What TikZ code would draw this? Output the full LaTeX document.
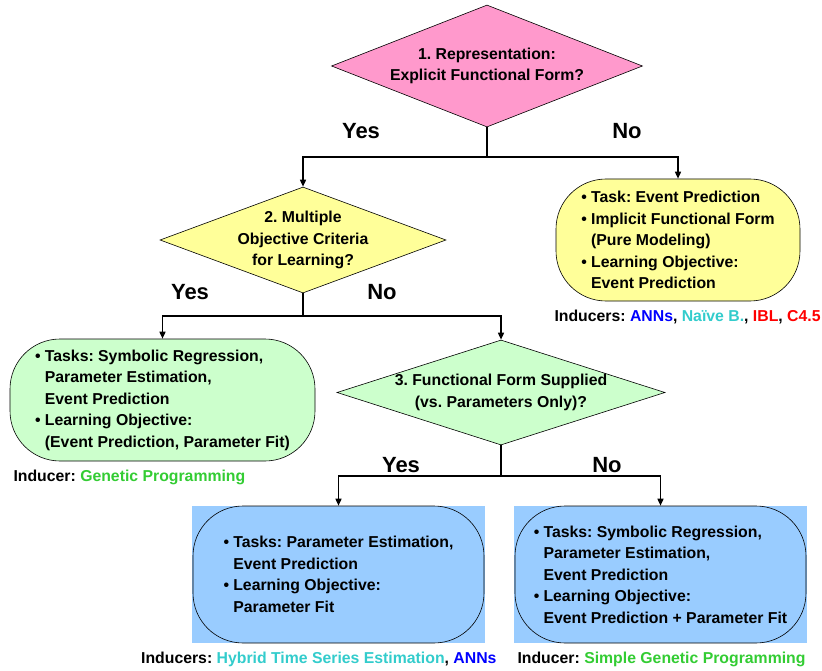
\documentclass[tikz,border=0pt]{standalone}
\usepackage{fontspec}
\setmainfont{Liberation Sans}
\usetikzlibrary{shapes.geometric,arrows.meta,positioning}

\definecolor{qpink}{RGB}{255,153,204}
\definecolor{qyellow}{RGB}{255,255,153}
\definecolor{qgreen}{RGB}{204,255,204}
\definecolor{qblue}{RGB}{153,204,255}
\definecolor{indblue}{RGB}{0,0,255}
\definecolor{indcyan}{RGB}{51,204,204}
\definecolor{indred}{RGB}{255,0,0}
\definecolor{indgreen}{RGB}{51,204,51}

\newcommand{\itm}{\makebox[0.62em][l]{\textbullet}}
\newcommand{\cnt}{\hspace*{0.62em}}
\frenchspacing

\begin{document}
\begin{tikzpicture}[x=1pt, y=-1pt,
	every node/.style={font=\fontsize{15.8}{21.5}\selectfont\bfseries},
	question/.style={diamond, draw, line width=0.6pt, inner sep=-4pt, align=center},
	outcome/.style={rectangle, draw, line width=0.6pt, rounded corners=50pt, inner sep=0pt, align=left},
	answer/.style={font=\fontsize{22}{26}\selectfont\bfseries},
	conn/.style={line width=1.5pt},
	arr/.style={conn, -{Triangle[length=7pt, width=6pt]}}]
	\useasboundingbox (0,0) rectangle (822,671);

	% Draw the questions
	\node[question, fill=qpink, aspect=2.55, minimum width=311, minimum height=122] (rep) at (487,66)
		{1. Representation:\\Explicit Functional Form?};
	\node[question, fill=qyellow, aspect=2.7, minimum width=286, minimum height=106] (crit) at (303,240)
		{2. Multiple\\Objective Criteria\\for Learning?};
	\node[question, fill=qgreen, aspect=3.1, minimum width=328, minimum height=105] (form) at (501,392.5)
		{3. Functional Form Supplied\\(vs. Parameters Only)?};

	% Draw the outcome boxes
	\node[outcome, fill=qyellow, minimum width=244, minimum height=122] (impl) at (678,240)
		{\itm Task: Event Prediction\\\itm Implicit Functional Form\\\cnt(Pure Modeling)\\\itm Learning Objective:\\\cnt Event Prediction};
	\node[outcome, fill=qgreen, minimum width=305, minimum height=122] (gp) at (162.5,400)
		{\itm Tasks: Symbolic Regression,\\\cnt Parameter Estimation,\\\cnt Event Prediction\\\itm Learning Objective:\\\cnt(Event Prediction, Parameter Fit)};

	\fill[qblue] (192,506) rectangle (485,643);
	\fill[qblue] (514,506) rectangle (807,643);
	\node[outcome, fill=qblue, minimum width=291, minimum height=137] (hyb) at (338.5,574.5)
		{\itm Tasks: Parameter Estimation,\\\cnt Event Prediction\\\itm Learning Objective:\\\cnt Parameter Fit};
	\node[outcome, fill=qblue, minimum width=291, minimum height=137] (sgp) at (660.5,574.5)
		{\itm Tasks: Symbolic Regression,\\\cnt Parameter Estimation,\\\cnt Event Prediction\\\itm Learning Objective:\\\cnt Event Prediction + Parameter Fit};

	% Draw the branches
	\coordinate (j1) at (487,157);
	\coordinate (j2) at (303,316);
	\coordinate (j3) at (501,476);
	\draw[conn] (rep.south) -- (j1);
	\draw[arr] (j1) -| (crit.north);
	\draw[arr] (j1) -| (impl.north);
	\draw[conn] (crit.south) -- (j2);
	\draw[arr] (j2) -| (gp.north);
	\draw[arr] (j2) -| (form.north);
	\draw[conn] (form.south) -- (j3);
	\draw[arr] (j3) -| (hyb.north);
	\draw[arr] (j3) -| (sgp.north);

	% Yes / No labels
	\node[answer] (y1) at (361,131) {Yes};
	\node[answer] (n1) at (627,131) {No};
	\node[answer] (y2) at (190,292) {Yes};
	\node[answer] (n2) at (382,292) {No};
	\node[answer] (y3) at (401,465) {Yes};
	\node[answer] (n3) at (607,465) {No};

	% Inducers
	\node[anchor=west] (indimpl) at (551,317)
		{Inducers: \textcolor{indblue}{ANNs}, \textcolor{indcyan}{Naïve B.}, \textcolor{indred}{IBL}, \textcolor{indred}{C4.5}};
	\node[anchor=west] (indgp) at (10,477)
		{Inducer: \textcolor{indgreen}{Genetic Programming}};
	\node[anchor=east] (indhyb) at (500,659)
		{Inducers: \textcolor{indcyan}{Hybrid Time Series Estimation}, \textcolor{indblue}{ANNs}};
	\node[anchor=west] (indsgp) at (514,659)
		{Inducer: \textcolor{indgreen}{Simple Genetic Programming}};
\end{tikzpicture}
\end{document}
